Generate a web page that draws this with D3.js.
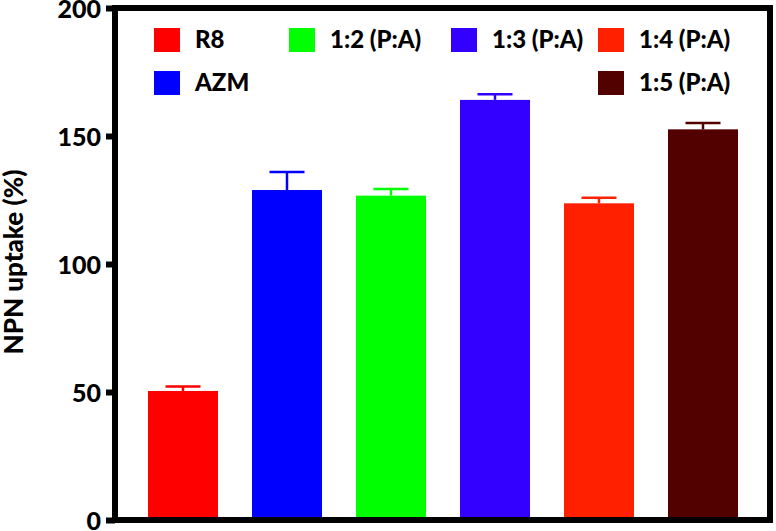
<!DOCTYPE html>
<html>
<head>
<meta charset="utf-8">
<script src="https://cdn.jsdelivr.net/npm/d3@7"></script>
<style>
  body { margin: 0; background: #fff; }
  text { font-family: Lato, "Open Sans", sans-serif; font-weight: 900; fill: #000; }
</style>
</head>
<body>
<div id="container"></div>
<script>
var width = 776,
    height = 531;

// data
var groups = ["R8", "AZM", "1:2 (P:A)", "1:3 (P:A)", "1:4 (P:A)", "1:5 (P:A)"];
var means = [50.4, 128.9, 126.7, 164.1, 123.7, 152.6];
var errors = [1.7, 7.0, 2.6, 2.2, 2.2, 2.5];
var colors = ["#ff0000", "#0000ff", "#00ff00", "#3300ff", "#ff2000", "#520000"];
var yTicks = [0, 50, 100, 150, 200];

// legend layout (column, row) as GraphPad placed it
var legendCol = [0, 0, 1, 2, 3, 3];
var legendRow = [0, 1, 0, 0, 0, 1];

// plot box edges (window.top is reserved, so prefixed names)
var pLeft = 115, pRight = 770, pTop = 8, pBottom = 520;

var svg = d3.select("#container").append("svg")
    .attr("width", width)
    .attr("height", height);

var x = d3.scaleBand()
    .domain(groups)
    .range([pLeft + 3, pRight - 2])
    .paddingInner(0.327)
    .paddingOuter(0.2885);

var y = d3.scaleLinear()
    .domain([0, 200])
    .range([pBottom, pTop]);

// bars
svg.selectAll(".bar")
    .data(groups)
    .enter().append("rect")
    .attr("class", "bar")
    .attr("x", d => x(d))
    .attr("y", (d, i) => y(means[i]))
    .attr("width", x.bandwidth())
    .attr("height", (d, i) => y(0) - y(means[i]))
    .attr("fill", (d, i) => colors[i]);

// error bars (upper only)
var eb = svg.selectAll(".err")
    .data(groups)
    .enter().append("g")
    .attr("class", "err")
    .attr("stroke", (d, i) => colors[i])
    .attr("stroke-width", 2.5);
eb.append("line")
    .attr("x1", d => x(d) + x.bandwidth() / 2)
    .attr("x2", d => x(d) + x.bandwidth() / 2)
    .attr("y1", (d, i) => y(means[i]))
    .attr("y2", (d, i) => y(means[i] + errors[i]));
eb.append("line")
    .attr("x1", d => x(d) + x.bandwidth() / 4)
    .attr("x2", d => x(d) + x.bandwidth() * 3 / 4)
    .attr("y1", (d, i) => y(means[i] + errors[i]))
    .attr("y2", (d, i) => y(means[i] + errors[i]));

// frame
svg.append("rect")
    .attr("x", pLeft)
    .attr("y", pTop)
    .attr("width", pRight - pLeft)
    .attr("height", pBottom - pTop)
    .attr("fill", "none")
    .attr("stroke", "#000")
    .attr("stroke-width", 6);

// y axis
var yAxis = d3.axisLeft(y)
    .tickValues(yTicks)
    .tickSize(9)
    .tickPadding(5)
    .tickFormat(d3.format("d"));
var gy = svg.append("g")
    .attr("transform", "translate(" + pLeft + ",0)")
    .call(yAxis);
gy.select(".domain").remove();
gy.selectAll(".tick line")
    .attr("stroke", "#000")
    .attr("stroke-width", 6);
gy.selectAll(".tick text")
    .attr("font-size", 25)
    .attr("font-family", "Lato, sans-serif")
    .attr("font-weight", 900)
    .attr("dy", "0.36em");

svg.append("text")
    .attr("transform", "translate(23," + 262 + ") rotate(-90)")
    .attr("text-anchor", "middle")
    .attr("font-size", 26)
    .text("NPN uptake (%)");

// legend
var colX = [154, 289, 451, 598];
var legend = svg.selectAll(".leg")
    .data(groups)
    .enter().append("g")
    .attr("class", "leg")
    .attr("transform", (d, i) => "translate(" + colX[legendCol[i]] + "," + (28 + legendRow[i] * 43) + ")");
legend.append("rect")
    .attr("width", 26)
    .attr("height", 24)
    .attr("fill", (d, i) => colors[i]);
legend.append("text")
    .attr("x", 41)
    .attr("y", 20)
    .attr("font-size", 24)
    .text(d => d);
</script>
</body>
</html>
